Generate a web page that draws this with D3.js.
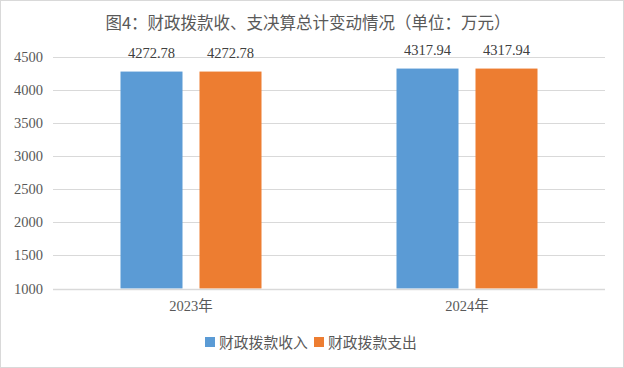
<!DOCTYPE html>
<html><head><meta charset="utf-8">
<script src="https://cdn.jsdelivr.net/npm/d3@7"></script>
<style>body{margin:0;background:#fff}svg{display:block}</style>
</head><body><svg id="c" width="624" height="368"></svg>
<script>
const title = "图4：财政拨款收、支决算总计变动情况（单位：万元）";
const categories = ["2023年", "2024年"];
const seriesNames = ["财政拨款收入", "财政拨款支出"];
const income = [4272.78, 4317.94];
const expense = [4272.78, 4317.94];
const yTicks = [1000, 1500, 2000, 2500, 3000, 3500, 4000, 4500];
const colors = ["#5B9BD5", "#ED7D31"];

const svg = d3.select("#c");
const W = 624, H = 368;
const m = {l: 53, r: 19, t: 56.5, b: 79.5};
const serif = "'Liberation Serif','Times New Roman',serif";
const cjk = "'Noto Sans CJK SC',sans-serif";
const txt = "#595959";

svg.append("rect").attr("x",0.5).attr("y",0.5).attr("width",W-1).attr("height",H-1)
  .attr("fill","#fff").attr("stroke","#d9d9d9");

const x = d3.scaleBand().domain(categories).range([m.l, W-m.r]);
const y = d3.scaleLinear().domain([1000, 4500]).range([H-m.b, m.t]);
const series = [income, expense];
const xs = d3.scaleBand().domain([0,1]).range([0, 141]).paddingInner(17/79).paddingOuter(0);

// grid
svg.append("g").selectAll("line").data(yTicks).join("line")
  .attr("x1", m.l).attr("x2", W-m.r)
  .attr("y1", d=>Math.round(y(d))+0.5).attr("y2", d=>Math.round(y(d))+0.5)
  .attr("stroke", "#d9d9d9").attr("stroke-width", 1);

// y labels
const yAxis = d3.axisLeft(y).tickValues(yTicks).tickFormat(d3.format("d")).tickSize(0).tickPadding(10);
const ya = svg.append("g").attr("transform",`translate(${m.l},0)`).call(yAxis);
ya.select(".domain").remove();
ya.selectAll("text").attr("font-family", serif).attr("font-size", 14.5).attr("fill", txt);

// bars
categories.forEach((c, i) => {
  const gx = x(c) + x.bandwidth()/2 - 70.5;
  series.forEach((s, j) => {
    svg.append("rect")
      .attr("x", gx + xs(j)).attr("width", xs.bandwidth())
      .attr("y", y(s[i])).attr("height", y(1000) - y(s[i]))
      .attr("fill", colors[j]);
    svg.append("text")
      .attr("x", gx + xs(j) + xs.bandwidth()/2).attr("y", y(s[i]) - 14)
      .attr("text-anchor","middle").attr("font-family", serif).attr("font-size", 14.5)
      .attr("fill", "#404040").text(s[i].toFixed(2));
  });
});

// baseline
svg.append("line").attr("x1", m.l).attr("x2", W-m.r)
  .attr("y1", Math.round(y(1000))+0.5).attr("y2", Math.round(y(1000))+0.5)
  .attr("stroke","#d9d9d9").attr("stroke-width",1.5);

// x labels
const xa = svg.append("g").attr("transform",`translate(0,${y(1000)})`)
  .call(d3.axisBottom(x).tickSize(0).tickPadding(12));
xa.select(".domain").remove();
xa.selectAll("text").attr("font-family", `'Liberation Serif',${cjk}`)
  .attr("font-size", 14.5).attr("fill", txt);

// title
svg.append("text").attr("x", 308).attr("y", 29).attr("text-anchor","middle")
  .attr("font-family", cjk).attr("font-size", 16.5).attr("fill", txt).text(title);

// legend
const lg = svg.append("g");
const lx = [205, 314];
seriesNames.forEach((n, j) => {
  lg.append("rect").attr("x", lx[j]).attr("y", 337).attr("width", 10).attr("height", 10).attr("fill", colors[j]);
  lg.append("text").attr("x", lx[j]+14).attr("y", 347.5).attr("font-family", cjk)
    .attr("font-size", 14.8).attr("fill", txt).text(n);
});
</script></body></html>
